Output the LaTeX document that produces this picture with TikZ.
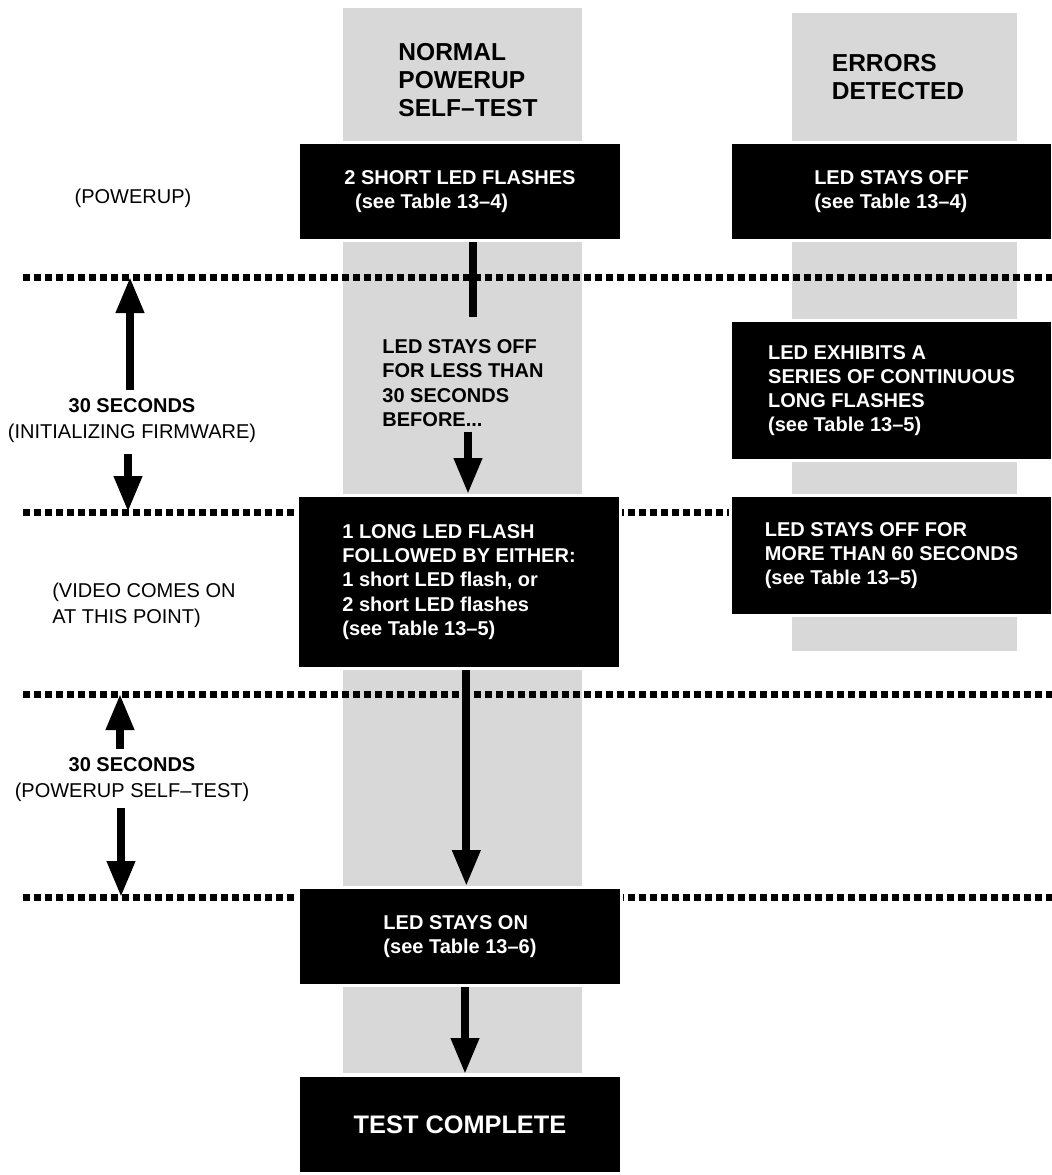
\documentclass[tikz,border=0pt]{standalone}
\usepackage{fontspec}
\setmainfont{Liberation Sans}
\usetikzlibrary{arrows.meta,positioning}
\definecolor{colgray}{RGB}{216,216,216}

\begin{document}
\begin{tikzpicture}[
  x=0.75pt,y=-0.75pt,
  font=\fontsize{15pt}{19.5pt}\selectfont,
  ledbox/.style={fill=black,draw=white,line width=2.25pt,text=white,align=left,inner sep=0pt,
    minimum width=242pt,font=\fontsize{15pt}{18.2pt}\selectfont\bfseries},
  colhead/.style={font=\fontsize{18.4pt}{21pt}\selectfont\bfseries,align=left},
  timeline/.style={line width=5.25pt,dash pattern=on 5.25pt off 3pt},
  flow/.style={line width=6pt,-{Triangle[width=20pt,length=27pt]}}
]
\useasboundingbox (0,0) rectangle (1051,1175);

% shaded columns
\fill[colgray] (343,8) rectangle (582,1073);
\fill[colgray] (792,13) rectangle (1017,651);

% time marks
\foreach \ty in {277,512,694,897}
  \draw[timeline] (23,\ty) -- (1060,\ty);

\node[colhead] (normhead) at (468,80) {NORMAL\\POWERUP\\SELF–TEST};
\node[colhead] (errhead) at (898,77) {ERRORS\\DETECTED};

\node (pwrlbl) at (133,198) {(POWERUP)};
\node[align=center] (fwlbl) at (132,421) {\textbf{30 SECONDS}\\(INITIALIZING FIRMWARE)};
\node[align=left,anchor=west,inner sep=0pt] (vidlbl) at (52,605) {(VIDEO COMES ON\\AT THIS POINT)};
\node[align=center] (stlbl) at (132,780) {\textbf{30 SECONDS}\\(POWERUP SELF–TEST)};

\node[ledbox,minimum height=73.5pt] (shortflash) at (460,191.5)
  {2 SHORT LED FLASHES\\\hspace*{8pt}(see Table 13–4)};
\node[ledbox,minimum height=73.5pt] (staysoff) at (891.5,191.5)
  {LED STAYS OFF\\(see Table 13–4)};
\node[ledbox,minimum height=105pt] (longflashes) at (891.5,390.5)
  {LED EXHIBITS A\\SERIES OF CONTINUOUS\\LONG FLASHES\\(see Table 13–5)};
\node[ledbox,minimum height=90pt] (offsixty) at (891.5,555.5)
  {LED STAYS OFF FOR\\MORE THAN 60 SECONDS\\(see Table 13–5)};

\node[font=\fontsize{15pt}{18.4pt}\selectfont\bfseries,align=left] (offless) at (463,383)
  {LED STAYS OFF\\FOR LESS THAN\\30 SECONDS\\BEFORE...};
\node[ledbox,minimum height=129.75pt] (longflash) at (459,582)
  {1 LONG LED FLASH\\FOLLOWED BY EITHER:\\1 short LED flash, or\\2 short LED flashes\\(see Table 13–5)};
\node[ledbox,minimum height=73.5pt] (stayson) at (460,936.5)
  {LED STAYS ON\\(see Table 13–6)};
\node[ledbox,minimum height=73.5pt,font=\fontsize{19pt}{22pt}\selectfont\bfseries] (complete) at (460,1124.5)
  {TEST COMPLETE};

% flow in the normal column
\coordinate (stubend) at (473,317);
\draw[line width=6pt] (shortflash.south -| stubend) -- (stubend);
\draw[flow] ([xshift=3.75pt]offless.south) -- ([xshift=3.75pt]offless.south |- longflash.north);
\draw[flow] ([xshift=5.5pt]longflash.south) -- ([xshift=5.5pt]longflash.south |- stayson.north);
\draw[flow] ([xshift=3.75pt]stayson.south) -- ([xshift=3.75pt]stayson.south |- complete.north);

% time spans
\coordinate (fwtop) at (130,277);
\coordinate (fwbot) at (128,512);
\coordinate (sttop) at (120,694);
\coordinate (stbot) at (121,897);
\draw[flow] ([yshift=3pt]fwlbl.north -| fwtop) -- (fwtop);
\draw[flow] ([yshift=-5pt]fwlbl.south -| fwbot) -- (fwbot);
\draw[flow] ([yshift=3pt]stlbl.north -| sttop) -- (sttop);
\draw[flow] ([yshift=-1pt]stlbl.south -| stbot) -- (stbot);
\end{tikzpicture}
\end{document}
